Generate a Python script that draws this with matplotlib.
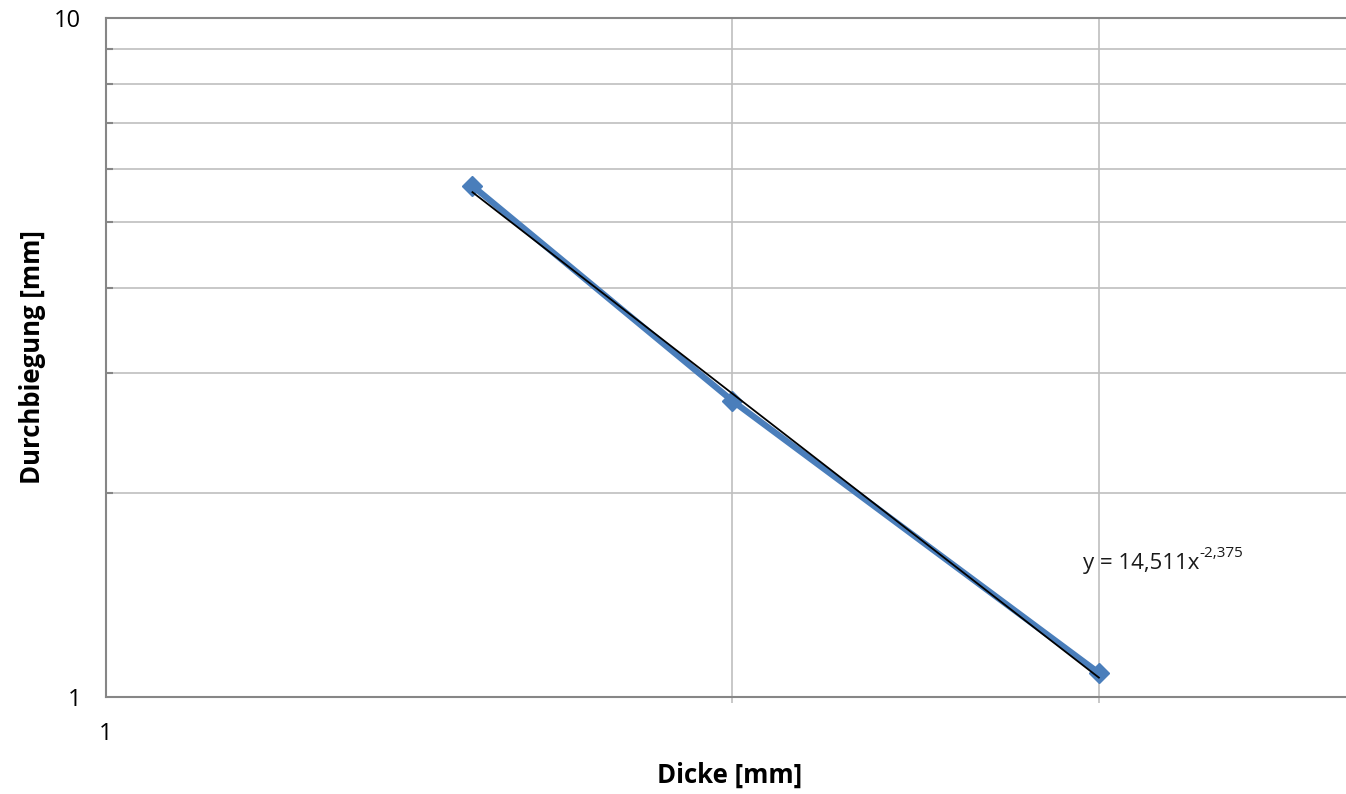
"""Durchbiegung over Dicke on log-log axes with power-law trend line"""
import matplotlib
matplotlib.use('Agg')
import matplotlib.pyplot as plt
from matplotlib.ticker import LogLocator, NullFormatter, FixedLocator, FixedFormatter
import numpy as np

plt.rcParams['font.family'] = ['Open Sans', 'DejaVu Sans']

# measured values
dicke = [1.5, 2.0, 3.0]
durchbiegung = [5.66, 2.73, 1.085]

# power fit y = a * x^b
fit_a = 14.511
fit_b = -2.375
fit_base = 'y = 14,511x'
fit_exp = '-2,375'

grid_c = '#bfbfbf'
axis_c = '#868686'
blue = '#4a7ebb'

fig = plt.figure(figsize=(13.46, 7.94), dpi=100, facecolor='w')
ax = fig.add_axes([106/1346, 1-697/794, 1-106/1346, (697-18)/794])

ax.set_xscale('log')
ax.set_yscale('log')
ax.set_xlim(1, 10**((1346-106)/2081))
ax.set_ylim(1, 10)

# data series
ax.plot(dicke, durchbiegung, '-', color=blue, lw=4.5, marker='D', ms=10,
        mfc=blue, mec=blue, zorder=3, solid_capstyle='round')

# trend line
xf = np.array([dicke[0], dicke[-1]])
ax.plot(xf, fit_a * xf**fit_b, '-', color='k', lw=1.3, zorder=4)

t = ax.text(2.948, 1.575, fit_base, fontsize=16, va='center', ha='left',
            color='#1a1a1a')
ax.annotate(fit_exp, xy=(1, 0.62), xycoords=t, fontsize=11, va='bottom',
            ha='left', color='#1a1a1a')

# grid
ax.xaxis.set_major_locator(FixedLocator([1]))
ax.xaxis.set_major_formatter(FixedFormatter(['1']))
ax.xaxis.set_minor_locator(FixedLocator([2, 3]))
ax.xaxis.set_minor_formatter(NullFormatter())
ax.yaxis.set_major_locator(FixedLocator([1, 10]))
ax.yaxis.set_major_formatter(FixedFormatter(['1', '10']))
ax.yaxis.set_minor_locator(LogLocator(base=10, subs=np.arange(2, 10)))
ax.yaxis.set_minor_formatter(NullFormatter())

ax.grid(True, which='minor', color=grid_c, lw=1.2)
ax.axhline(10, color=axis_c, lw=1.5, zorder=2, clip_on=False)
ax.set_axisbelow(True)

for side in ['top', 'right']:
    ax.spines[side].set_visible(False)
for side in ['left', 'bottom']:
    ax.spines[side].set_color(axis_c)
    ax.spines[side].set_linewidth(1.5)

ax.tick_params(axis='both', which='major', length=0, labelsize=17, colors='k')
ax.tick_params(axis='x', which='major', pad=18)
ax.tick_params(axis='y', which='major', pad=18)
ax.tick_params(axis='y', which='minor', direction='in', length=5, width=1.5,
               color=axis_c)
ax.tick_params(axis='x', which='minor', direction='out', length=4, width=1.2,
               color=grid_c)

fig.text(730/1346, 1-775/794, 'Dicke [mm]', fontsize=18.5, weight='bold',
         ha='center', va='center')
fig.text(33/1346, 1-357/794, 'Durchbiegung [mm]', fontsize=18.5, weight='bold',
         ha='center', va='center', rotation=90)

fig.savefig('out.png', dpi=100, facecolor='w')
